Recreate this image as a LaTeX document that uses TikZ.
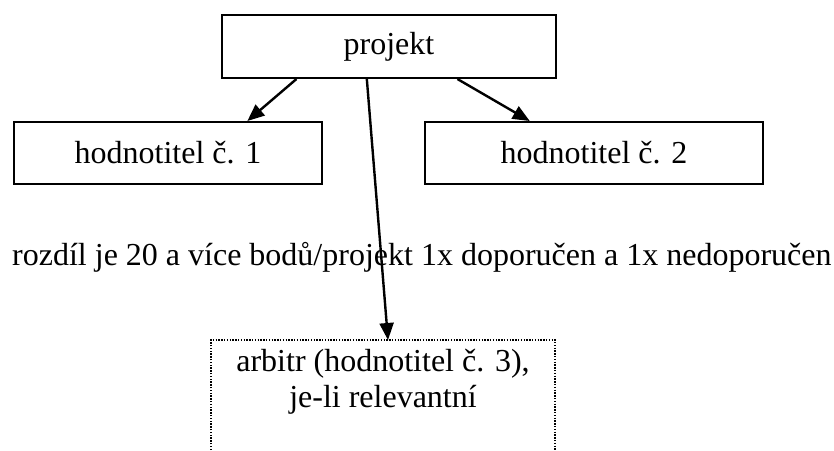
\documentclass[tikz,border=0pt]{standalone}
\usepackage{fontspec}
\setmainfont{Liberation Serif}
\usetikzlibrary{arrows.meta,calc}
\tikzset{
  box/.style={draw, line width=2pt, rectangle, inner sep=0pt, font=\fontsize{32}{36}\selectfont},
  arr/.style={line width=2.4pt, -{Triangle[length=17pt,width=14pt]}},
  lbl/.style={inner sep=0pt, font=\fontsize{32}{36}\selectfont},
  dotframe/.style={line width=1.6pt, dash pattern=on 1.4pt off 1.4pt}
}
\begin{document}
\begin{tikzpicture}[x=1pt,y=-1pt]
\useasboundingbox (0,0) rectangle (834,450);
\node[box, minimum width=334pt, minimum height=63pt] (proj) at (389,46.5) {projekt};
\node[box, minimum width=308pt, minimum height=62pt] (h1) at (168,153) {hodnotitel č. 1};
\node[box, minimum width=338pt, minimum height=62pt] (h2) at (594,153) {hodnotitel č. 2};
\node[lbl, anchor=base west] (rule) at (12,265) {rozdíl je 20 a více bodů/projekt 1x doporučen a 1x nedoporučen};
\node[lbl, align=center, minimum width=344pt, anchor=north, inner ysep=9pt] (arb) at (383,340) {arbitr (hodnotitel č. 3),\\je-li relevantní};
\draw[dotframe] ($(arb.north west)+(0,110)$) -- (arb.north west) -- (arb.north east) -- ($(arb.north east)+(0,110)$);
\draw[arr] ($(proj.south west)!0.2246!(proj.south east)$) -- ($(h1.north west)!0.756!(h1.north east)$);
\draw[arr] ($(proj.south west)!0.7036!(proj.south east)$) -- ($(h2.north west)!0.311!(h2.north east)$);
\draw[arr] ($(proj.south west)!0.434!(proj.south east)$) -- ($(arb.north west)!0.5145!(arb.north east)$);
\end{tikzpicture}
\end{document}
